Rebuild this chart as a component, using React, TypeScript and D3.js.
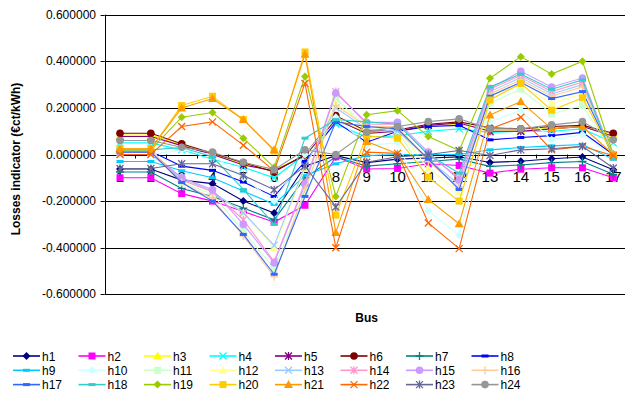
import React from "react";
import * as d3 from "d3";

const buses = ["1","2","3","4","5","6","7","8","9","10","11","12","13","14","15","16","17"];
const yTicks = [-0.6, -0.4, -0.2, 0, 0.2, 0.4, 0.6];

const seriesNames = ["h1","h2","h3","h4","h5","h6","h7","h8","h9","h10","h11","h12","h13","h14","h15","h16","h17","h18","h19","h20","h21","h22","h23","h24"];

const h1 = [-0.062, -0.062, -0.11, -0.125, -0.2, -0.251, -0.05, -0.005, -0.035, -0.02, -0.015, -0.01, -0.034, -0.029, -0.018, -0.011, -0.065];
const h2 = [-0.1, -0.1, -0.168, -0.2, -0.245, -0.29, -0.218, -0.01, -0.062, -0.06, -0.04, -0.047, -0.08, -0.063, -0.057, -0.057, -0.1];
const h3 = [0.083, 0.083, 0.042, 0.003, -0.04, -0.062, -0.01, 0.155, 0.092, 0.1, 0.12, 0.13, 0.105, 0.105, 0.115, 0.12, 0.085];
const h4 = [0.05, 0.05, 0.02, -0.02, -0.055, -0.1, 0.0, 0.13, 0.075, 0.08, 0.1, 0.11, 0.095, 0.1, 0.1, 0.11, 0.05];
const h5 = [0.077, 0.077, 0.038, 0.0, -0.045, -0.07, -0.005, 0.15, 0.09, 0.1, 0.125, 0.135, 0.1, 0.1, 0.11, 0.12, 0.078];
const h6 = [0.091, 0.091, 0.046, 0.005, -0.035, -0.075, 0.0, 0.167, 0.1, 0.105, 0.13, 0.14, 0.115, 0.11, 0.12, 0.125, 0.091];
const h7 = [-0.075, -0.075, -0.146, -0.18, -0.23, -0.28, -0.1, -0.01, -0.05, -0.04, -0.03, -0.02, -0.051, -0.045, -0.035, -0.03, -0.085];
const h8 = [0.014, 0.014, -0.05, -0.068, -0.118, -0.18, -0.03, 0.14, 0.053, 0.1, 0.12, 0.125, 0.063, 0.073, 0.081, 0.095, 0.0];
const h9 = [-0.03, -0.03, -0.07, -0.1, -0.157, -0.214, -0.09, -0.04, -0.005, 0.0, 0.0, 0.0, 0.02, 0.03, 0.037, 0.043, -0.02];
const h10 = [0.0, 0.0, 0.02, 0.0, -0.1, -0.2, 0.0, 0.16, 0.04, 0.05, -0.243, -0.347, 0.14, 0.19, 0.063, 0.086, -0.01];
const h11 = [0.02, 0.02, -0.12, -0.17, -0.33, -0.49, -0.16, 0.238, 0.12, 0.1, -0.1, -0.2, 0.22, 0.28, 0.175, 0.21, 0.0];
const h12 = [0.02, 0.02, -0.11, -0.16, -0.25, -0.4, -0.06, 0.22, 0.12, 0.11, -0.06, -0.16, 0.25, 0.3, 0.22, 0.26, 0.0];
const h13 = [0.0, 0.0, -0.1, -0.16, -0.25, -0.39, -0.05, 0.2, 0.11, 0.1, -0.02, -0.13, 0.27, 0.33, 0.26, 0.3, -0.01];
const h14 = [0.01, 0.01, -0.11, -0.16, -0.28, -0.46, -0.12, 0.27, 0.13, 0.13, 0.0, -0.1, 0.28, 0.34, 0.27, 0.31, -0.01];
const h15 = [0.01, 0.01, -0.1, -0.151, -0.3, -0.465, -0.128, 0.264, 0.138, 0.138, 0.01, -0.11, 0.284, 0.357, 0.29, 0.328, -0.01];
const h16 = [0.015, 0.015, -0.12, -0.19, -0.35, -0.525, -0.15, 0.21, 0.12, 0.12, -0.03, -0.14, 0.26, 0.32, 0.25, 0.29, 0.0];
const h17 = [0.01, 0.01, -0.12, -0.2, -0.343, -0.514, -0.18, 0.14, 0.12, 0.11, -0.02, -0.15, 0.25, 0.31, 0.24, 0.27, -0.005];
const h18 = [0.02, 0.02, 0.03, -0.01, -0.15, -0.3, 0.07, 0.15, 0.14, 0.13, 0.0, -0.08, 0.29, 0.345, 0.28, 0.32, -0.02];
const h19 = [0.02, 0.02, 0.16, 0.18, 0.07, -0.055, 0.335, -0.18, 0.171, 0.188, 0.077, 0.017, 0.327, 0.42, 0.345, 0.4, 0.0];
const h20 = [0.025, 0.025, 0.21, 0.25, 0.15, 0.015, 0.44, -0.26, 0.08, 0.07, -0.097, -0.2, 0.234, 0.305, 0.19, 0.243, 0.0];
const h21 = [0.025, 0.025, 0.2, 0.24, 0.15, 0.02, 0.43, -0.335, 0.056, 0.003, -0.193, -0.297, 0.17, 0.227, 0.11, 0.12, 0.0];
const h22 = [0.0, 0.0, 0.12, 0.14, 0.04, -0.07, 0.305, -0.4, 0.01, 0.005, -0.294, -0.404, 0.11, 0.16, 0.02, 0.035, -0.005];
const h23 = [-0.06, -0.06, -0.04, -0.04, -0.09, -0.151, -0.05, -0.225, -0.033, -0.01, 0.0, 0.017, -0.004, 0.02, 0.025, 0.035, -0.058];
const h24 = [0.06, 0.06, 0.031, 0.01, -0.033, -0.065, 0.02, 0.0, 0.096, 0.12, 0.141, 0.153, 0.11, 0.11, 0.127, 0.141, 0.063];

const seriesValues = [h1,h2,h3,h4,h5,h6,h7,h8,h9,h10,h11,h12,h13,h14,h15,h16,h17,h18,h19,h20,h21,h22,h23,h24];

const seriesColors = ["#000080","#FF00FF","#FFFF00","#00FFFF","#800080","#800000","#008080","#0000FF","#00CCFF","#CCFFFF","#CCFFCC","#FFFF99","#99CCFF","#FF99CC","#CC99FF","#FFCC99","#3366FF","#33CCCC","#99CC00","#FFCC00","#FF9900","#FF6600","#666699","#969696"];
const seriesMarkers = ["diamond","square","triangle","x","star","circle","plus","dash","dash","diamond","square","triangle","x","star","circle","plus","dash","dash","diamond","square","triangle","x","star","circle"];

const FONT = "'Liberation Sans', Arial, sans-serif";

function Marker({ type, x, y, color }: { type: string; x: number; y: number; color: string }) {
  switch (type) {
    case "diamond":
      return <path d={`M${x},${y - 4}L${x + 4},${y}L${x},${y + 4}L${x - 4},${y}Z`} fill={color} />;
    case "square":
      return <rect x={x - 3.5} y={y - 3.5} width={7} height={7} fill={color} />;
    case "triangle":
      return <path d={`M${x},${y - 4.5}L${x + 4.5},${y + 3.5}L${x - 4.5},${y + 3.5}Z`} fill={color} />;
    case "x":
      return <path d={`M${x - 3.5},${y - 3.5}L${x + 3.5},${y + 3.5}M${x - 3.5},${y + 3.5}L${x + 3.5},${y - 3.5}`} stroke={color} strokeWidth={1.3} fill="none" />;
    case "star":
      return <path d={`M${x - 3.5},${y - 3.5}L${x + 3.5},${y + 3.5}M${x - 3.5},${y + 3.5}L${x + 3.5},${y - 3.5}M${x},${y - 4}L${x},${y + 4}`} stroke={color} strokeWidth={1.3} fill="none" />;
    case "circle":
      return <circle cx={x} cy={y} r={3.8} fill={color} />;
    case "plus":
      return <path d={`M${x - 4},${y}L${x + 4},${y}M${x},${y - 4}L${x},${y + 4}`} stroke={color} strokeWidth={1.3} fill="none" />;
    case "dash":
      return <rect x={x - 3.5} y={y - 1.5} width={7} height={3} fill={color} />;
    default:
      return null;
  }
}

export default function App() {
  const W = 625, H = 394;
  const left = 104.6, right = 628.7, top = 14.7, bottom = 294.3;
  const x = d3.scaleBand<string>().domain(buses).range([left, right]).padding(0);
  const y = d3.scaleLinear().domain([-0.6, 0.6]).range([bottom, top]);
  const cx = (b: string) => (x(b) as number) + x.bandwidth() / 2;
  const line = d3.line<number>().x((_, i) => cx(buses[i])).y((d) => y(d));
  const fmt = (v: number) => d3.format(".6f")(v).replace("\u2212", "-");
  const y0 = y(0);

  const legendCols = 8;
  const legendX0 = 13, legendDX = 65.5, legendY0 = 356, legendDY = 14.3;

  return (
    <svg width={W} height={H} style={{ position: "absolute", left: 0, top: 0, background: "#fff" }} fontFamily={FONT}>
      {yTicks.map((t) => (
        <line key={"g" + t} x1={left} x2={W} y1={Math.round(y(t)) + 0.5} y2={Math.round(y(t)) + 0.5} stroke="#000" strokeWidth={1} />
      ))}
      <line x1={Math.round(left) + 0.5} x2={Math.round(left) + 0.5} y1={top} y2={bottom} stroke="#000" />
      {yTicks.map((t) => (
        <g key={"yt" + t}>
          <line x1={left - 4} x2={left} y1={Math.round(y(t)) + 0.5} y2={Math.round(y(t)) + 0.5} stroke="#000" />
          <text x={96} y={y(t) + 4} textAnchor="end" fontSize={12} fill="#000">{fmt(t)}</text>
        </g>
      ))}
      {buses.map((b) => (
        <line key={"xt" + b} x1={Math.round((x(b) as number)) + 0.5} x2={Math.round((x(b) as number)) + 0.5} y1={y0} y2={y0 + 4} stroke="#000" />
      ))}
      {buses.map((b) => (
        <text key={"xl" + b} x={cx(b)} y={y0 + 27} textAnchor="middle" fontSize={15} fill="#000">{b}</text>
      ))}
      {seriesValues.map((vals, si) => (
        <g key={"s" + si}>
          <path d={line(vals) || ""} fill="none" stroke={seriesColors[si]} strokeWidth={1.1} />
          {vals.map((v, i) => (
            <Marker key={i} type={seriesMarkers[si]} x={cx(buses[i])} y={y(v)} color={seriesColors[si]} />
          ))}
        </g>
      ))}
      <text transform={`translate(20,159) rotate(-90)`} textAnchor="middle" fontSize={12} fontWeight="bold" fill="#000">Losses indicator (€ct/kWh)</text>
      <text x={(left + right) / 2} y={322} textAnchor="middle" fontSize={12} fontWeight="bold" fill="#000">Bus</text>
      {seriesNames.map((n, i) => {
        const col = i % legendCols, row = Math.floor(i / legendCols);
        const lx = legendX0 + col * legendDX, ly = legendY0 + row * legendDY;
        return (
          <g key={"l" + n}>
            <line x1={lx} x2={lx + 27} y1={ly} y2={ly} stroke={seriesColors[i]} strokeWidth={1.6} />
            <Marker type={seriesMarkers[i]} x={lx + 13.5} y={ly} color={seriesColors[i]} />
            <text x={lx + 29} y={ly + 4.5} fontSize={12} fill="#000">{n}</text>
          </g>
        );
      })}
    </svg>
  );
}
